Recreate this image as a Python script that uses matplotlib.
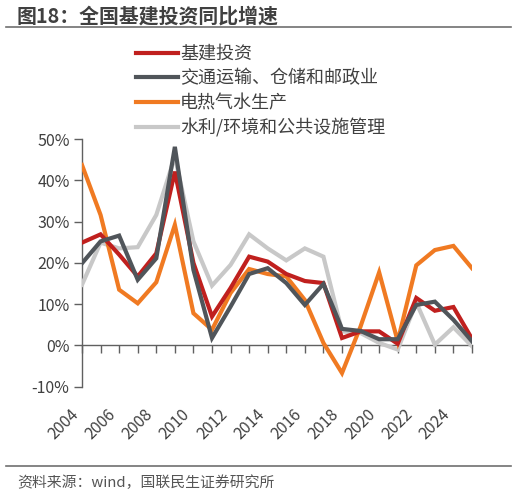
import matplotlib
matplotlib.use("Agg")
import matplotlib.pyplot as plt
from matplotlib.lines import Line2D

plt.rcParams['font.family'] = ['Noto Sans CJK SC', 'DejaVu Sans']

years = list(range(2004, 2026))
infra = [24.9, 26.9, 22.0, 16.7, 22.3, 42.1, 20.0, 7.0, 13.9, 21.5, 20.3, 17.3,
         15.6, 15.1, 1.8, 3.4, 3.4, 0.4, 11.5, 8.4, 9.3, 1.6]
transport = [19.9, 25.2, 26.6, 15.9, 21.1, 48.1, 18.3, 1.8, 9.4, 17.3, 18.7, 15.1,
             9.8, 14.9, 4.0, 3.5, 1.5, 1.5, 9.8, 10.6, 6.2, 1.0]
utilities = [43.7, 31.6, 13.5, 10.2, 15.3, 29.2, 7.8, 3.8, 12.7, 18.5, 17.3, 16.7,
             11.0, 0.6, -6.7, 4.6, 17.7, 1.0, 19.4, 23.1, 24.1, 18.7]
water = [14.7, 24.9, 23.5, 23.8, 31.6, 45.7, 25.2, 14.5, 19.5, 26.9, 23.5, 20.6,
         23.5, 21.5, 3.4, 3.0, 0.6, -1.0, 10.4, 0.2, 4.4, -0.2]

series_names = ['基建投资', '交通运输、仓储和邮政业', '电热气水生产', '水利/环境和公共设施管理']
series_colors = ['#C0201E', '#50555A', '#F07A22', '#C8C8C8']
yticks = [-10, 0, 10, 20, 30, 40, 50]
xticklabels_years = list(range(2004, 2025, 2))

title = '图18：全国基建投资同比增速'
source = '资料来源：wind，国联民生证券研究所'

text_color = '#404040'

fig = plt.figure(figsize=(5.16, 4.94), dpi=100)
ax = fig.add_axes([82/516, 1-386.7/494, (472-82)/516, (386.7-139)/494])

data = [infra, transport, utilities, water]
for i in [3, 2, 0, 1]:
    ax.plot(years, data[i], color=series_colors[i], lw=3.0, solid_joinstyle='miter', zorder=3)

ax.set_xlim(2004, 2025)
ax.set_ylim(-10, 50)
ax.set_yticks(yticks)
ax.set_yticklabels([f'{v}%' for v in yticks], fontsize=11.5, color=text_color)

for s in ['top', 'right', 'bottom']:
    ax.spines[s].set_visible(False)
ax.spines['left'].set_color('#606060')
ax.spines['left'].set_linewidth(1.0)
ax.tick_params(axis='y', direction='out', length=6, width=1.0, color='#606060', pad=3)

ax.set_xticks(xticklabels_years)
ax.set_xticklabels([str(y) for y in xticklabels_years], rotation=45, ha='right',
                   fontsize=11.5, color=text_color)
ax.tick_params(axis='x', length=0, pad=14)

sec = ax.secondary_xaxis(1/6)
sec.set_xticks(years)
sec.set_xticklabels([])
sec.spines['bottom'].set_color('#606060')
sec.spines['bottom'].set_linewidth(1.0)
sec.tick_params(axis='x', direction='out', length=6, width=1.0, color='#606060')

handles = [Line2D([0], [0], color=c, lw=3.0) for c in series_colors]
leg = fig.legend(handles, series_names, loc='upper left', bbox_to_anchor=(136/516, 1-45/494),
                 frameon=False, fontsize=13, handlelength=2.3, handletextpad=0.15,
                 labelspacing=0.36, borderaxespad=0, borderpad=0)
for t in leg.get_texts():
    t.set_color(text_color)

fig.text(17/516, 1-16/494, title, fontsize=14.3, fontweight='bold', color='#404040',
         ha='left', va='center')
fig.add_artist(Line2D([6/516, 511/516], [1-27.5/494, 1-27.5/494], color='#707070', lw=1.2))
fig.add_artist(Line2D([6/516, 511/516], [1-466/494, 1-466/494], color='#707070', lw=1.2))
fig.text(17/516, 1-483/494, source, fontsize=10.7, color='#555555', ha='left', va='center')

fig.savefig('out.png', dpi=100)
